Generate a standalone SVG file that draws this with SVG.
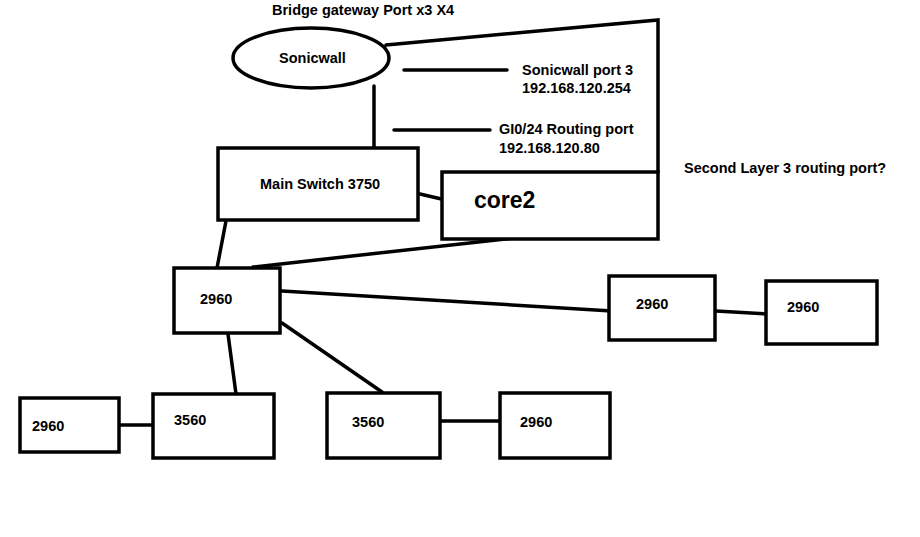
<svg xmlns="http://www.w3.org/2000/svg" width="920" height="537" viewBox="0 0 920 537">
<style>
.box{fill:#fff;stroke:#000;stroke-width:3.5}
.ln{stroke:#000;stroke-width:3.5;fill:none;stroke-linecap:round}
.t{font-family:"Liberation Sans",Arial,sans-serif;font-weight:bold;font-size:14.5px;fill:#000}
.big{font-size:23px}
</style>
<rect width="920" height="537" fill="#fff"/>
<g id="connectors">
<polyline class="ln" points="386,45 658,20 658,172"/>
<line class="ln" x1="374" y1="86" x2="374" y2="148"/>
<line class="ln" x1="404" y1="70" x2="507" y2="70"/>
<line class="ln" x1="394" y1="130" x2="490" y2="130"/>
<line class="ln" x1="420" y1="194" x2="450" y2="201"/>
<line class="ln" x1="514" y1="238" x2="253" y2="267"/>
<line class="ln" x1="226" y1="221" x2="217" y2="268"/>
<line class="ln" x1="282" y1="291" x2="612" y2="311"/>
<line class="ln" x1="716" y1="311" x2="767" y2="314"/>
<line class="ln" x1="228" y1="334" x2="236" y2="394"/>
<line class="ln" x1="282" y1="323" x2="382" y2="392"/>
<line class="ln" x1="119" y1="425" x2="153" y2="425"/>
<line class="ln" x1="440" y1="421" x2="500" y2="421"/>
</g>
<g id="bridge-label"><text class="t" x="272" y="15">Bridge gateway Port x3 X4</text></g>
<g id="sonicwall">
<ellipse class="box" cx="311" cy="58" rx="78" ry="30"/>
<text class="t" x="279" y="63">Sonicwall</text>
</g>
<g id="sonicwall-port-label">
<text class="t" x="522" y="75">Sonicwall port 3</text>
<text class="t" x="522" y="93">192.168.120.254</text>
</g>
<g id="gi-label">
<text class="t" x="499" y="134">GI0/24 Routing port</text>
<text class="t" x="499" y="153">192.168.120.80</text>
</g>
<g id="second-layer-label"><text class="t" x="684" y="173">Second Layer 3 routing port?</text></g>
<g id="main-switch">
<rect class="box" x="218" y="148" width="200" height="72"/>
<text class="t" x="260" y="189">Main Switch 3750</text>
</g>
<g id="core2">
<rect class="box" x="442" y="172" width="216" height="67"/>
<text class="t big" x="474" y="208">core2</text>
</g>
<g id="sw2960-main">
<rect class="box" x="174" y="268" width="106" height="65"/>
<text class="t" x="200" y="304">2960</text>
</g>
<g id="sw2960-right1">
<rect class="box" x="609" y="276" width="106" height="64"/>
<text class="t" x="636" y="309">2960</text>
</g>
<g id="sw2960-right2">
<rect class="box" x="766" y="281" width="111" height="63"/>
<text class="t" x="787" y="312">2960</text>
</g>
<g id="sw2960-left">
<rect class="box" x="20" y="398" width="99" height="54"/>
<text class="t" x="32" y="431">2960</text>
</g>
<g id="sw3560-left">
<rect class="box" x="153" y="394" width="121" height="64"/>
<text class="t" x="174" y="425">3560</text>
</g>
<g id="sw3560-mid">
<rect class="box" x="327" y="393" width="113" height="65"/>
<text class="t" x="352" y="427">3560</text>
</g>
<g id="sw2960-bottom">
<rect class="box" x="500" y="393" width="110" height="65"/>
<text class="t" x="520" y="427">2960</text>
</g>
</svg>
